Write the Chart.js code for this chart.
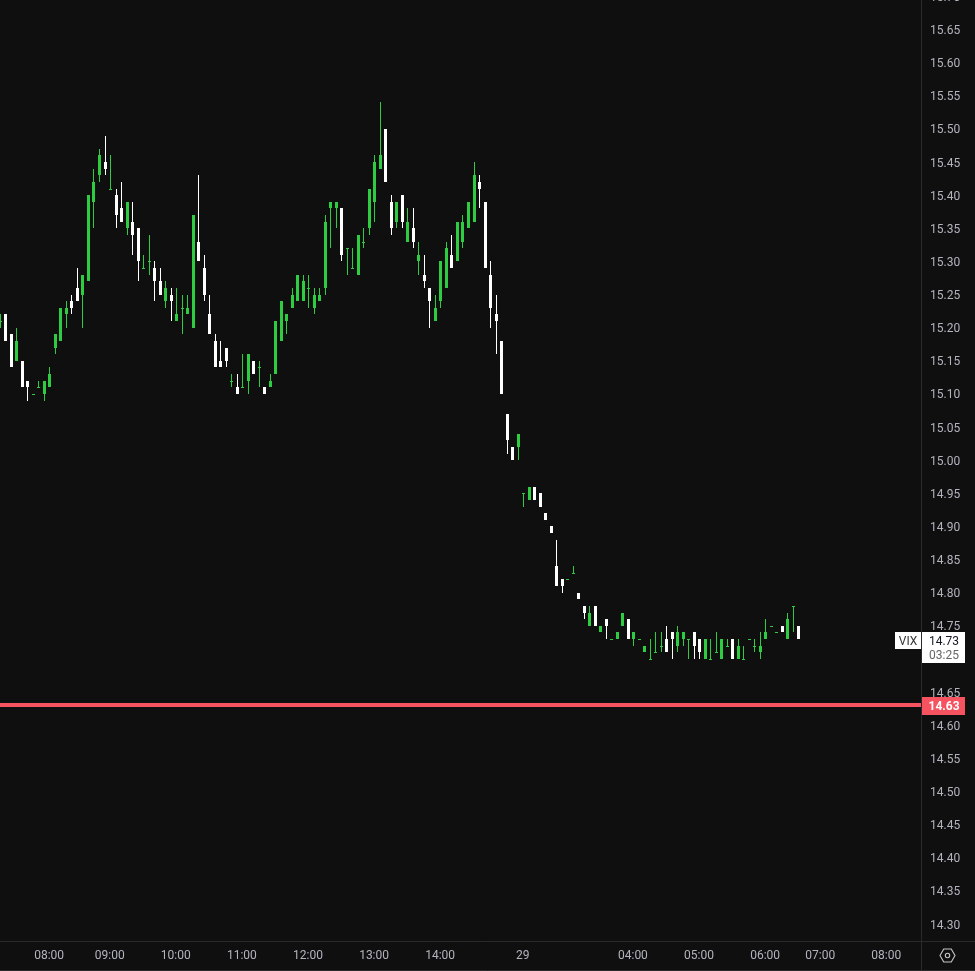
<!DOCTYPE html>
<html><head><meta charset="utf-8">
<style>html,body{margin:0;padding:0;background:#0f0f0f;overflow:hidden;height:971px}canvas{position:absolute;left:0;top:-20px;display:block}</style>
<script src="https://cdn.jsdelivr.net/npm/chart.js@4/dist/chart.umd.min.js"></script>
</head><body><canvas id="c" width="975" height="991" style="width:975px;height:991px"></canvas>
<script>
const opens=[15.21,15.22,15.19,15.15,15.15,15.12,15.10,15.11,15.10,15.11,15.17,15.18,15.22,15.24,15.26,15.25,15.27,15.39,15.43,15.45,15.41,15.40,15.38,15.35,15.36,15.35,15.29,15.30,15.29,15.27,15.24,15.25,15.21,15.23,15.22,15.20,15.33,15.29,15.22,15.18,15.15,15.17,15.12,15.11,15.11,15.12,15.15,15.14,15.11,15.11,15.13,15.18,15.21,15.23,15.24,15.24,15.26,15.23,15.24,15.26,15.38,15.38,15.38,15.32,15.29,15.28,15.33,15.35,15.39,15.44,15.50,15.39,15.36,15.40,15.33,15.35,15.30,15.28,15.26,15.21,15.24,15.26,15.31,15.30,15.33,15.35,15.36,15.42,15.39,15.28,15.22,15.18,15.07,15.02,15.02,14.95,14.94,14.96,14.95,14.92,14.90,14.84,14.82,14.82,14.83,14.80,14.78,14.75,14.78,14.74,14.76,14.73,14.73,14.75,14.76,14.73,14.73,14.71,14.70,14.71,14.72,14.73,14.74,14.72,14.73,14.73,14.74,14.73,14.70,14.70,14.71,14.70,14.72,14.73,14.70,14.70,14.73,14.72,14.71,14.73,14.75,14.74,14.75,14.73,14.78,14.75];
const highs=[15.22,15.22,15.19,15.20,15.15,15.12,15.10,15.12,15.12,15.14,15.19,15.23,15.24,15.25,15.29,15.28,15.40,15.44,15.47,15.49,15.46,15.41,15.42,15.39,15.39,15.35,15.31,15.34,15.30,15.29,15.27,15.26,15.26,15.25,15.25,15.37,15.43,15.31,15.25,15.19,15.18,15.17,15.13,15.13,15.16,15.16,15.15,15.15,15.11,15.13,15.21,15.24,15.22,15.26,15.28,15.28,15.28,15.26,15.26,15.37,15.39,15.39,15.38,15.32,15.32,15.34,15.35,15.41,15.46,15.54,15.50,15.40,15.39,15.40,15.38,15.38,15.33,15.31,15.26,15.25,15.30,15.33,15.34,15.36,15.37,15.39,15.45,15.43,15.39,15.30,15.25,15.18,15.07,15.02,15.04,14.95,14.96,14.96,14.95,14.92,14.90,14.88,14.82,14.82,14.84,14.80,14.78,14.78,14.78,14.75,14.76,14.73,14.74,14.77,14.76,14.74,14.73,14.72,14.73,14.74,14.74,14.75,14.74,14.75,14.74,14.73,14.74,14.73,14.73,14.73,14.74,14.73,14.73,14.73,14.73,14.72,14.73,14.73,14.74,14.76,14.75,14.74,14.75,14.77,14.78,14.75];
const lows=[15.20,15.18,15.14,15.15,15.11,15.09,15.10,15.11,15.09,15.11,15.16,15.18,15.20,15.22,15.24,15.20,15.27,15.35,15.42,15.43,15.41,15.35,15.36,15.34,15.31,15.27,15.29,15.28,15.24,15.25,15.23,15.21,15.21,15.19,15.22,15.20,15.30,15.24,15.19,15.14,15.14,15.14,15.11,15.10,15.11,15.10,15.13,15.11,15.10,15.11,15.13,15.18,15.19,15.23,15.24,15.24,15.23,15.22,15.24,15.25,15.32,15.35,15.30,15.28,15.29,15.28,15.32,15.34,15.36,15.44,15.42,15.34,15.35,15.35,15.33,15.32,15.28,15.26,15.20,15.21,15.23,15.26,15.29,15.30,15.32,15.35,15.36,15.38,15.29,15.20,15.16,15.10,15.01,15.00,15.00,14.93,14.94,14.94,14.93,14.91,14.89,14.81,14.80,14.82,14.83,14.79,14.76,14.75,14.75,14.74,14.73,14.73,14.73,14.75,14.73,14.72,14.73,14.71,14.70,14.71,14.71,14.71,14.70,14.71,14.72,14.70,14.70,14.70,14.70,14.70,14.71,14.70,14.72,14.70,14.70,14.70,14.73,14.71,14.70,14.73,14.75,14.74,14.74,14.73,14.74,14.73];
const closes=[15.21,15.18,15.14,15.18,15.11,15.11,15.10,15.11,15.12,15.13,15.19,15.23,15.23,15.23,15.24,15.28,15.40,15.42,15.46,15.44,15.41,15.37,15.36,15.39,15.34,15.30,15.29,15.30,15.27,15.25,15.26,15.24,15.22,15.23,15.23,15.37,15.30,15.25,15.19,15.14,15.14,15.15,15.12,15.10,15.11,15.16,15.13,15.14,15.10,15.12,15.21,15.24,15.22,15.25,15.28,15.27,15.26,15.25,15.25,15.36,15.39,15.39,15.31,15.32,15.29,15.34,15.33,15.41,15.45,15.46,15.42,15.35,15.39,15.36,15.36,15.33,15.31,15.27,15.24,15.23,15.30,15.32,15.29,15.36,15.36,15.39,15.43,15.41,15.29,15.23,15.21,15.10,15.03,15.00,15.04,14.95,14.96,14.94,14.93,14.91,14.89,14.81,14.81,14.82,14.83,14.79,14.77,14.77,14.75,14.75,14.75,14.73,14.74,14.77,14.73,14.74,14.73,14.72,14.70,14.71,14.72,14.71,14.73,14.74,14.74,14.73,14.72,14.71,14.73,14.70,14.71,14.73,14.72,14.70,14.72,14.70,14.73,14.72,14.72,14.74,14.75,14.74,14.74,14.76,14.78,14.73];
const timeTickBars=[9,20,32,44,56,68,80,95,115,127,139,149,161];
const timeTickLabels=['08:00','09:00','10:00','11:00','12:00','13:00','14:00','29','04:00','05:00','06:00','07:00','08:00'];
const priceTicks=[15.70,15.65,15.60,15.55,15.50,15.45,15.40,15.35,15.30,15.25,15.20,15.15,15.10,15.05,15.00,14.95,14.90,14.85,14.80,14.75,14.70,14.65,14.60,14.55,14.50,14.45,14.40,14.35,14.30];
const symbolName='VIX';
const countdown='03:25';
const levelPrice=14.63;
const lastPrice=14.73;

const GREEN='#2ecc40',WHITE='#ffffff',RED='#f7525f',LINE='#2a2a2a',TEXT='#b2b5be';
const colors=opens.map((o,i)=>closes[i]>=o?GREEN:WHITE);
const FONT='Roboto, "Liberation Sans", sans-serif';

const snapBars={id:'snapBars',
  beforeDraw(chart){
    const y=chart.scales.y,x=chart.scales.x;
    if(!y.$shifted){
      y.$shifted=true;
      y.getLabelItems().forEach(it=>{it.options.translation[1]+=1.5;});
      x.getLabelItems().forEach(it=>{it.options.translation[0]-=0.8;});
    }
  },
  beforeDatasetDraw(chart,args){
    const meta=args.meta;
    if(meta.type==='line'){meta.data.forEach(p=>{p.y=Math.round(p.y);});return;}
    meta.data.forEach(el=>{
      const x=Math.floor(el.x+1e-6)+0.5;
      const a=Math.round(Math.min(el.y,el.base)),b=Math.round(Math.max(el.y,el.base));
      el.x=x;el.y=a;el.base=b>a?b:a+1;
    });
  }};
const overlay={id:'overlay',afterDraw(chart){
  const c=chart.ctx,a=chart.chartArea,y=chart.scales.y,W=chart.width,H=chart.height;
  c.save();
  c.strokeStyle=LINE;c.lineWidth=1;
  c.beginPath();
  c.moveTo(a.right+0.5,0);c.lineTo(a.right+0.5,H-1);
  c.moveTo(0,a.bottom+0.5);c.lineTo(W,a.bottom+0.5);
  c.moveTo(0,H-0.5);c.lineTo(W,H-0.5);
  c.stroke();
  const px=Math.round(y.getPixelForValue(lastPrice));
  const bx=a.right+1,bw=43;
  const top=px-7;
  c.fillStyle=WHITE;
  c.fillRect(bx,top,bw,31);
  c.fillRect(895,top,26,17);
  c.font='12px '+FONT;c.textBaseline='middle';c.textAlign='center';
  c.fillStyle='#333333';c.fillText(symbolName,908,top+10);
  c.fillStyle='#131722';c.fillText(lastPrice.toFixed(2),bx+22,top+10);
  c.fillStyle='#666666';c.fillText(countdown,bx+22,top+23.5);
  const rp=Math.round(y.getPixelForValue(levelPrice));
  c.fillStyle=RED;c.fillRect(bx,rp-8,bw,18);
  c.fillStyle='#ffffff';c.font='bold 12px '+FONT;c.fillText(levelPrice.toFixed(2),bx+22,rp+1.5);
  const gx=947.5,gy=a.bottom+14.5,r=7.5;
  c.strokeStyle='#c8c8c8';c.lineWidth=1.1;c.beginPath();
  for(let k=0;k<6;k++){const t=k*Math.PI/3;const X=gx+r*Math.cos(t),Y=gy+r*Math.sin(t);k?c.lineTo(X,Y):c.moveTo(X,Y);}
  c.closePath();c.stroke();
  c.beginPath();c.arc(gx,gy,2.2,0,Math.PI*2);c.stroke();
  c.restore();
}};
const pts=(f)=>opens.map((_,i)=>({x:i,y:f(i)}));
const noPad=s=>{s.paddingTop=0;s.paddingBottom=0;s.paddingLeft=0;s.paddingRight=0;};
new Chart(document.getElementById('c'),{
  type:'bar',
  data:{datasets:[
    {type:'line',data:[{x:-1,y:levelPrice},{x:168,y:levelPrice}],borderColor:RED,borderWidth:4,pointRadius:0,order:0},
    {label:'body',data:pts(i=>[opens[i],closes[i]]),backgroundColor:colors,barThickness:3,grouped:false,inflateAmount:0,order:1},
    {label:'wick',data:pts(i=>[lows[i],highs[i]]),backgroundColor:colors,barThickness:1,grouped:false,inflateAmount:0,order:2}
  ]},
  options:{
    responsive:false,animation:false,devicePixelRatio:1,
    layout:{padding:0},
    plugins:{legend:{display:false},tooltip:{enabled:false}},
    scales:{
      x:{type:'linear',min:-0.0654,max:167.16,offset:false,
        grid:{display:false,offset:false,drawTicks:false},border:{display:false},
        afterBuildTicks:s=>{s.ticks=timeTickBars.map(v=>({value:v}));},
        afterFit:s=>{s.height=30;noPad(s);},
        ticks:{autoSkip:false,minRotation:0,maxRotation:0,padding:8,color:TEXT,font:{family:FONT,size:12},
          callback:v=>{const k=timeTickBars.indexOf(v);return k<0?'':timeTickLabels[k];}}},
      y:{type:'linear',position:'right',min:14.2744,max:15.7247,
        grid:{display:false,drawTicks:false},border:{display:false},
        afterBuildTicks:s=>{s.ticks=priceTicks.map(v=>({value:v}));},
        afterFit:s=>{s.width=54;noPad(s);},
        ticks:{autoSkip:false,padding:9,color:TEXT,font:{family:FONT,size:12},callback:v=>v.toFixed(2)}}
    }
  },
  plugins:[snapBars,overlay]
});
</script></body></html>
